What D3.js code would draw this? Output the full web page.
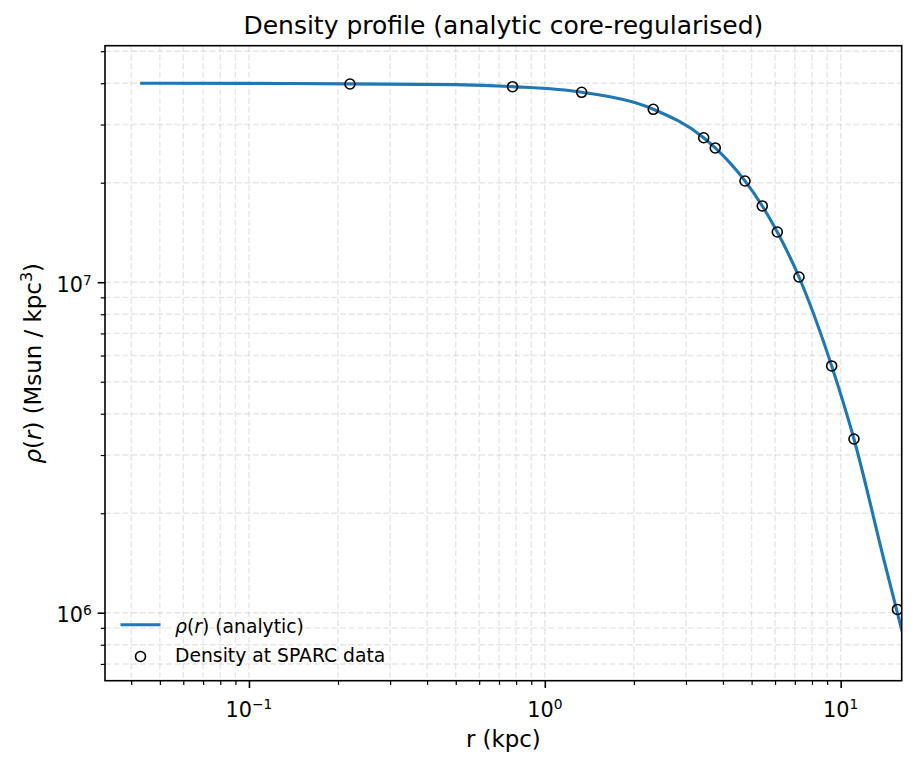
<!DOCTYPE html>
<html><head><meta charset="utf-8">
<script src="https://cdn.jsdelivr.net/npm/d3@7/dist/d3.min.js"></script>
<style>
body{margin:0;background:#fff}
text{font-family:"DejaVu Sans",sans-serif;fill:#000}
</style>
</head><body>
<svg id="chart" width="917" height="767"></svg>
<script>
// analytic curve
const curveR   = [0.0434, 0.1, 0.2195, 0.5, 0.778, 1.332, 2.326, 3.443, 3.768, 4.748, 5.433, 6.107, 7.23, 9.324, 11.09, 14.01, 16.08];
const curveRho = [4.00e7, 3.995e7, 3.982e7, 3.96e7, 3.905e7, 3.757e7, 3.337e7, 2.737e7, 2.548e7, 2.025e7, 1.701e7, 1.419e7, 1.037e7, 5.58e6, 3.355e6, 1.443e6, 8.87e5];
// density at SPARC radii
const dataR   = [0.2195, 0.778, 1.332, 2.326, 3.443, 3.768, 4.748, 5.433, 6.107, 7.23, 9.324, 11.09, 15.56];
const dataRho = [3.979e7, 3.904e7, 3.755e7, 3.336e7, 2.736e7, 2.548e7, 2.024e7, 1.701e7, 1.419e7, 1.037e7, 5.58e6, 3.355e6, 1.023e6];
const xTickExps = [-1, 0, 1];
const yTickExps = [6, 7];
const xDomain = [0.03262, 16.08];
const yDomain = [6.228e5, 5.195e7];
const titleText = "Density profile (analytic core-regularised)";
const xLabelText = "r (kpc)";

const L = 105, R = 901.7, T = 45.7, B = 680.7;
const svg = d3.select("#chart");
const x = d3.scaleLog().domain(xDomain).range([L, R]);
const y = d3.scaleLog().domain(yDomain).range([B, T]);

function minorTicks(dom, lo, hi) {
  const out = [];
  for (let e = lo; e <= hi; e++) for (let m = 2; m <= 9; m++) {
    const v = m * Math.pow(10, e);
    if (v > dom[0] && v < dom[1]) out.push(v);
  }
  return out;
}
const xMajor = xTickExps.map(e => Math.pow(10, e));
const yMajor = yTickExps.map(e => Math.pow(10, e));
const xMinor = minorTicks(xDomain, -2, 1);
const yMinor = minorTicks(yDomain, 5, 7);

svg.append("defs").append("clipPath").attr("id", "clip")
  .append("rect").attr("x", L).attr("y", T).attr("width", R - L).attr("height", B - T);

// grid
const grid = svg.append("g").attr("stroke", "#b0b0b0").attr("stroke-opacity", 0.32)
  .attr("stroke-width", 1.4).attr("stroke-dasharray", "6,2.7");
grid.selectAll(".gx").data(xMajor.concat(xMinor)).join("line")
  .attr("x1", d => x(d)).attr("x2", d => x(d)).attr("y1", T).attr("y2", B);
grid.selectAll(".gy").data(yMajor.concat(yMinor)).join("line")
  .attr("y1", d => y(d)).attr("y2", d => y(d)).attr("x1", L).attr("x2", R);

// axes ticks
const xAxisMaj = d3.axisBottom(x).tickValues(xMajor).tickFormat(() => "").tickSizeInner(7.3).tickSizeOuter(0);
const xAxisMin = d3.axisBottom(x).tickValues(xMinor).tickFormat(() => "").tickSizeInner(4.2).tickSizeOuter(0);
const yAxisMaj = d3.axisLeft(y).tickValues(yMajor).tickFormat(() => "").tickSizeInner(7.3).tickSizeOuter(0);
const yAxisMin = d3.axisLeft(y).tickValues(yMinor).tickFormat(() => "").tickSizeInner(4.2).tickSizeOuter(0);
function styleAxis(g, w) {
  g.select(".domain").remove();
  g.selectAll(".tick line").attr("stroke", "#000").attr("stroke-width", w);
  g.selectAll(".tick text").remove();
}
svg.append("g").attr("transform", `translate(0,${B})`).call(xAxisMaj).call(g => styleAxis(g, 1.6));
svg.append("g").attr("transform", `translate(0,${B})`).call(xAxisMin).call(g => styleAxis(g, 1.2));
svg.append("g").attr("transform", `translate(${L},0)`).call(yAxisMaj).call(g => styleAxis(g, 1.6));
svg.append("g").attr("transform", `translate(${L},0)`).call(yAxisMin).call(g => styleAxis(g, 1.2));

// tick labels
function powLabel(sel, e) {
  sel.append("tspan").text("10");
  sel.append("tspan").attr("font-size", "13.8px").attr("dy", -7.2).text(String(e).replace("-", "\u2212"));
}
xTickExps.forEach(e => {
  const t = svg.append("text").attr("x", x(Math.pow(10, e))).attr("y", 716.5)
    .attr("text-anchor", "middle").attr("font-size", "20.8px");
  powLabel(t, e);
});
yTickExps.forEach(e => {
  const t = svg.append("text").attr("x", 91.7).attr("y", y(Math.pow(10, e)) + 9.5)
    .attr("text-anchor", "end").attr("font-size", "20.8px");
  powLabel(t, e);
});

// curve
const plot = svg.append("g").attr("clip-path", "url(#clip)");
const pts = curveR.map((r, i) => [x(r), y(curveRho[i])]);
plot.append("path").attr("d", d3.line().curve(d3.curveMonotoneX)(pts))
  .attr("fill", "none").attr("stroke", "#1f77b4").attr("stroke-width", 3.1).attr("stroke-linecap", "square");

// scatter
plot.selectAll("circle.pt").data(dataR).join("circle").attr("class", "pt")
  .attr("cx", d => x(d)).attr("cy", (d, i) => y(dataRho[i])).attr("r", 5)
  .attr("fill", "none").attr("stroke", "#000").attr("stroke-width", 1.6);

// spines
svg.append("rect").attr("x", L).attr("y", T).attr("width", R - L).attr("height", B - T)
  .attr("fill", "none").attr("stroke", "#000").attr("stroke-width", 1.6);

// title
svg.append("text").attr("x", (L + R) / 2).attr("y", 34).attr("text-anchor", "middle")
  .attr("font-size", "25px").text(titleText);
// x label
svg.append("text").attr("x", (L + R) / 2).attr("y", 746.5).attr("text-anchor", "middle")
  .attr("font-size", "22.9px").text(xLabelText);
// y label
const yl = svg.append("text").attr("transform", `translate(40.5,${(T + B) / 2}) rotate(-90)`)
  .attr("text-anchor", "middle").attr("font-size", "22.9px");
yl.append("tspan").attr("font-style", "italic").text("\u03C1");
yl.append("tspan").text("(");
yl.append("tspan").attr("font-style", "italic").text("r");
yl.append("tspan").text(") (Msun / kpc");
yl.append("tspan").attr("font-size", "16px").attr("dy", -9).text("3");
yl.append("tspan").attr("dy", 9).text(")");

// legend
const lg = svg.append("g");
lg.append("line").attr("x1", 120.5).attr("x2", 160.5).attr("y1", 624.7).attr("y2", 624.7)
  .attr("stroke", "#1f77b4").attr("stroke-width", 3.1);
const lt = lg.append("text").attr("x", 175).attr("y", 632.5).attr("font-size", "18.75px");
lt.append("tspan").attr("font-style", "italic").text("\u03C1");
lt.append("tspan").text("(");
lt.append("tspan").attr("font-style", "italic").text("r");
lt.append("tspan").text(") (analytic)");
lg.append("circle").attr("cx", 140.5).attr("cy", 656.5).attr("r", 5)
  .attr("fill", "none").attr("stroke", "#000").attr("stroke-width", 1.6);
lg.append("text").attr("x", 175).attr("y", 662).attr("font-size", "18.75px").text("Density at SPARC data");
</script>
</body></html>
